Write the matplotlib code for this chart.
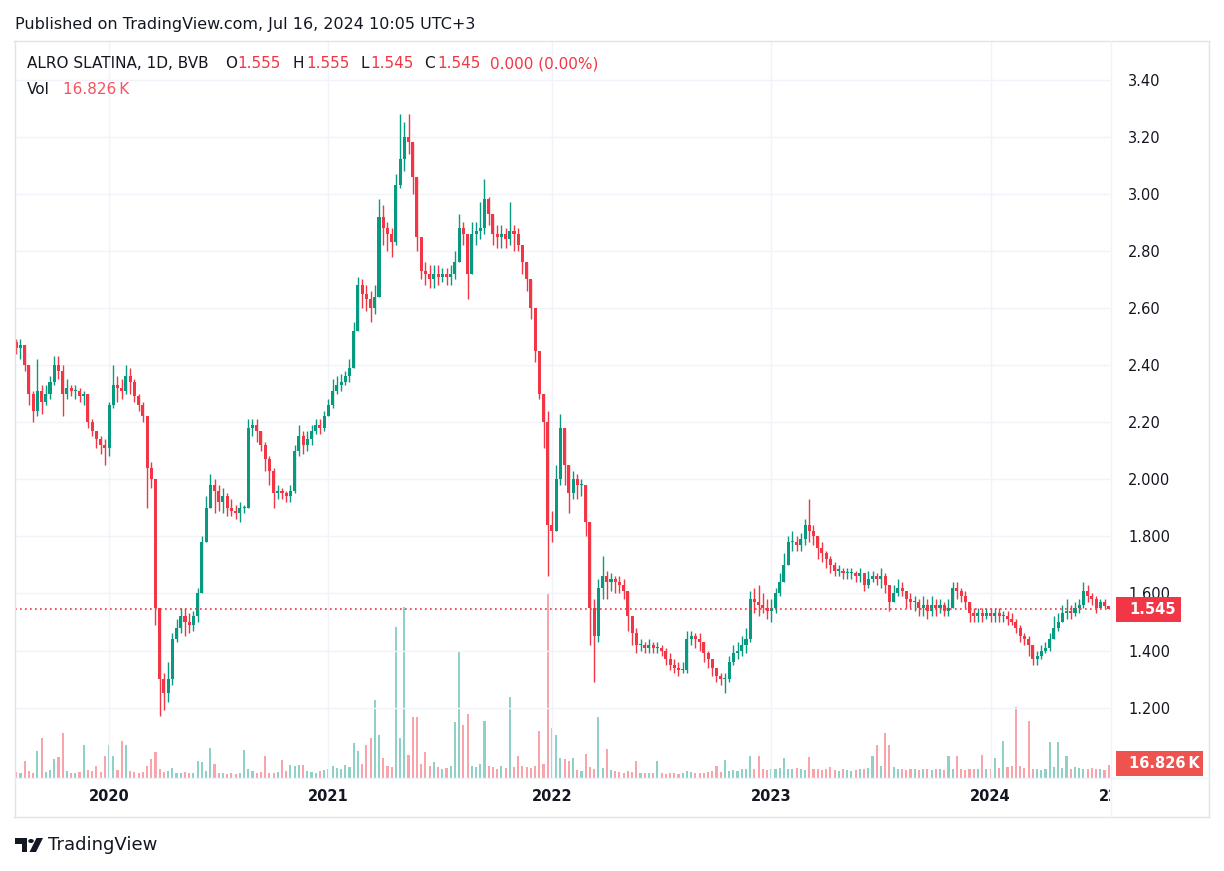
import matplotlib
matplotlib.use("Agg")
import matplotlib.pyplot as plt
import numpy as np
import pandas as pd
from matplotlib.patches import Rectangle, Polygon, Circle

# ---------------- data (weekly readings of ALRO, BVB) ----------------
dates = list(pd.date_range("2019-08-02", periods=259, freq="W-FRI")) + [pd.Timestamp("2024-07-16")]

first_open = 2.48

closes = [
    2.46, 2.47, 2.40, 2.30, 2.24, 2.31, 2.27, 2.30, 2.34, 2.40,
    2.38, 2.30, 2.32, 2.31, 2.31, 2.29, 2.30, 2.20, 2.17, 2.14,
    2.12, 2.11, 2.26, 2.33, 2.32, 2.31, 2.36, 2.34, 2.29, 2.26,
    2.22, 2.04, 2.00, 1.55, 1.30, 1.25, 1.30, 1.44, 1.48, 1.52,
    1.50, 1.49, 1.52, 1.60, 1.78, 1.90, 1.98, 1.96, 1.92, 1.94,
    1.90, 1.89, 1.88, 1.90, 1.90, 2.18, 2.19, 2.17, 2.12, 2.07,
    2.03, 1.95, 1.96, 1.95, 1.94, 1.96, 2.10, 2.15, 2.12, 2.14,
    2.17, 2.19, 2.18, 2.22, 2.26, 2.31, 2.33, 2.34, 2.36, 2.39,
    2.52, 2.68, 2.65, 2.63, 2.60, 2.64, 2.92, 2.88, 2.86, 2.83,
    3.03, 3.12, 3.20, 3.18, 3.06, 2.85, 2.73, 2.72, 2.70, 2.72,
    2.71, 2.72, 2.71, 2.72, 2.76, 2.88, 2.86, 2.72, 2.86, 2.87,
    2.88, 2.98, 2.93, 2.86, 2.85, 2.86, 2.84, 2.87, 2.86, 2.82,
    2.76, 2.70, 2.60, 2.45, 2.30, 2.20, 1.84, 1.82, 2.00, 2.18,
    2.05, 1.95, 2.00, 1.98, 1.98, 1.85, 1.55, 1.45, 1.62, 1.66,
    1.64, 1.65, 1.64, 1.63, 1.61, 1.52, 1.46, 1.42, 1.42, 1.41,
    1.42, 1.41, 1.41, 1.40, 1.37, 1.35, 1.34, 1.33, 1.33, 1.44,
    1.45, 1.44, 1.43, 1.39, 1.37, 1.34, 1.31, 1.30, 1.30, 1.36,
    1.39, 1.40, 1.42, 1.44, 1.58, 1.57, 1.56, 1.55, 1.54, 1.55,
    1.60, 1.64, 1.70, 1.78, 1.78, 1.77, 1.79, 1.84, 1.82, 1.80,
    1.76, 1.74, 1.72, 1.70, 1.68, 1.68, 1.67, 1.67, 1.67, 1.66,
    1.67, 1.63, 1.65, 1.66, 1.65, 1.66, 1.63, 1.57, 1.60, 1.62,
    1.61, 1.58, 1.57, 1.57, 1.55, 1.56, 1.54, 1.56, 1.55, 1.56,
    1.54, 1.55, 1.62, 1.61, 1.59, 1.57, 1.53, 1.52, 1.53, 1.52,
    1.53, 1.52, 1.53, 1.52, 1.52, 1.51, 1.50, 1.48, 1.45, 1.44,
    1.42, 1.37, 1.38, 1.40, 1.41, 1.44, 1.48, 1.50, 1.53, 1.54,
    1.53, 1.55, 1.56, 1.61, 1.59, 1.58, 1.55, 1.57, 1.555, 1.545,
]

highs = [
    2.49, 2.49, 2.46, 2.40, 2.31, 2.42, 2.33, 2.33, 2.36, 2.43,
    2.43, 2.40, 2.35, 2.33, 2.33, 2.32, 2.31, 2.24, 2.21, 2.17,
    2.15, 2.14, 2.27, 2.40, 2.36, 2.35, 2.40, 2.39, 2.35, 2.30,
    2.27, 2.18, 2.06, 1.98, 1.40, 1.32, 1.36, 1.46, 1.51, 1.55,
    1.55, 1.53, 1.54, 1.62, 1.80, 1.94, 2.02, 2.00, 1.98, 1.97,
    1.95, 1.93, 1.91, 1.92, 1.91, 2.21, 2.21, 2.21, 2.17, 2.13,
    2.08, 2.04, 1.98, 1.97, 1.96, 1.98, 2.12, 2.19, 2.17, 2.17,
    2.19, 2.21, 2.21, 2.24, 2.28, 2.35, 2.36, 2.37, 2.38, 2.42,
    2.55, 2.71, 2.70, 2.68, 2.66, 2.68, 2.98, 2.96, 2.90, 2.88,
    3.07, 3.28, 3.25, 3.28, 3.12, 2.98, 2.80, 2.76, 2.75, 2.75,
    2.75, 2.74, 2.74, 2.75, 2.80, 2.93, 2.90, 2.80, 2.90, 2.90,
    2.97, 3.05, 2.99, 2.92, 2.89, 2.89, 2.88, 2.97, 2.89, 2.88,
    2.81, 2.76, 2.68, 2.56, 2.42, 2.28, 2.24, 1.89, 2.05, 2.23,
    2.12, 2.05, 2.03, 2.02, 2.00, 1.97, 1.82, 1.58, 1.65, 1.73,
    1.68, 1.67, 1.66, 1.66, 1.65, 1.60, 1.50, 1.48, 1.44, 1.43,
    1.44, 1.43, 1.43, 1.42, 1.41, 1.39, 1.37, 1.36, 1.36, 1.47,
    1.47, 1.46, 1.46, 1.43, 1.40, 1.37, 1.34, 1.32, 1.32, 1.38,
    1.42, 1.43, 1.45, 1.48, 1.61, 1.62, 1.63, 1.60, 1.58, 1.58,
    1.62, 1.67, 1.74, 1.80, 1.82, 1.80, 1.81, 1.86, 1.93, 1.84,
    1.80, 1.78, 1.75, 1.73, 1.71, 1.70, 1.69, 1.69, 1.69, 1.68,
    1.69, 1.67, 1.68, 1.68, 1.67, 1.69, 1.67, 1.63, 1.63, 1.65,
    1.64, 1.61, 1.60, 1.59, 1.58, 1.59, 1.58, 1.59, 1.58, 1.58,
    1.57, 1.58, 1.64, 1.64, 1.62, 1.61, 1.57, 1.55, 1.55, 1.55,
    1.55, 1.55, 1.55, 1.55, 1.54, 1.54, 1.53, 1.51, 1.49, 1.46,
    1.45, 1.42, 1.40, 1.42, 1.43, 1.46, 1.52, 1.53, 1.56, 1.58,
    1.56, 1.57, 1.58, 1.64, 1.63, 1.60, 1.59, 1.58, 1.58, 1.555,
]

lows = [
    2.44, 2.42, 2.38, 2.26, 2.20, 2.22, 2.23, 2.26, 2.28, 2.33,
    2.35, 2.22, 2.28, 2.29, 2.28, 2.27, 2.26, 2.18, 2.15, 2.11,
    2.09, 2.05, 2.08, 2.25, 2.27, 2.28, 2.30, 2.30, 2.27, 2.24,
    2.20, 1.90, 1.97, 1.49, 1.17, 1.19, 1.22, 1.28, 1.43, 1.46,
    1.45, 1.46, 1.47, 1.50, 1.60, 1.82, 1.90, 1.88, 1.89, 1.88,
    1.87, 1.87, 1.86, 1.85, 1.88, 2.07, 2.15, 2.13, 2.10, 2.03,
    1.98, 1.90, 1.93, 1.93, 1.92, 1.92, 1.95, 2.08, 2.09, 2.10,
    2.12, 2.16, 2.16, 2.17, 2.22, 2.25, 2.30, 2.31, 2.33, 2.34,
    2.40, 2.54, 2.60, 2.59, 2.55, 2.58, 2.66, 2.82, 2.80, 2.78,
    2.82, 3.02, 3.08, 3.14, 3.00, 2.80, 2.70, 2.68, 2.67, 2.67,
    2.68, 2.69, 2.68, 2.68, 2.70, 2.80, 2.82, 2.63, 2.72, 2.82,
    2.84, 2.86, 2.89, 2.82, 2.81, 2.81, 2.81, 2.82, 2.80, 2.80,
    2.72, 2.66, 2.56, 2.41, 2.28, 2.11, 1.66, 1.78, 1.83, 1.98,
    1.98, 1.88, 1.93, 1.93, 1.94, 1.80, 1.42, 1.29, 1.43, 1.58,
    1.58, 1.61, 1.60, 1.60, 1.58, 1.47, 1.42, 1.39, 1.40, 1.39,
    1.39, 1.39, 1.39, 1.38, 1.35, 1.33, 1.32, 1.31, 1.32, 1.32,
    1.42, 1.41, 1.40, 1.36, 1.34, 1.31, 1.29, 1.28, 1.25, 1.29,
    1.35, 1.37, 1.38, 1.39, 1.43, 1.53, 1.52, 1.53, 1.51, 1.50,
    1.53, 1.59, 1.64, 1.70, 1.75, 1.75, 1.75, 1.77, 1.78, 1.77,
    1.72, 1.71, 1.69, 1.67, 1.66, 1.66, 1.65, 1.65, 1.65, 1.64,
    1.64, 1.61, 1.62, 1.64, 1.63, 1.62, 1.60, 1.54, 1.57, 1.59,
    1.59, 1.55, 1.55, 1.54, 1.52, 1.52, 1.51, 1.52, 1.52, 1.53,
    1.52, 1.52, 1.55, 1.58, 1.57, 1.55, 1.50, 1.50, 1.50, 1.50,
    1.51, 1.50, 1.50, 1.50, 1.50, 1.49, 1.49, 1.46, 1.43, 1.42,
    1.38, 1.35, 1.35, 1.37, 1.39, 1.40, 1.44, 1.47, 1.50, 1.51,
    1.51, 1.52, 1.53, 1.55, 1.57, 1.56, 1.53, 1.55, 1.55, 1.545,
]

# volume in thousands (K)
volumes = [
    8, 6, 22, 9, 7, 35, 52, 8, 10, 25,
    27, 58, 9, 7, 6, 8, 42, 10, 9, 16,
    8, 29, 42, 29, 10, 48, 42, 9, 8, 7,
    8, 16, 25, 34, 12, 8, 9, 13, 7, 6,
    8, 6, 7, 22, 21, 9, 39, 18, 7, 6,
    5, 6, 5, 7, 36, 12, 9, 7, 8, 29,
    7, 6, 8, 23, 9, 17, 16, 17, 17, 9,
    8, 7, 9, 10, 11, 16, 13, 12, 17, 14,
    45, 35, 18, 42, 52, 100, 55, 26, 16, 14,
    195, 52, 220, 30, 79, 78, 18, 34, 16, 21,
    14, 12, 13, 15, 72, 162, 68, 83, 16, 14,
    18, 74, 16, 14, 12, 15, 13, 104, 14, 29,
    15, 14, 13, 16, 60, 18, 238, 65, 56, 26,
    24, 22, 26, 10, 9, 31, 14, 12, 79, 13,
    38, 10, 9, 8, 7, 9, 8, 22, 7, 6,
    6, 7, 22, 6, 5, 6, 7, 5, 6, 9,
    8, 7, 6, 7, 8, 9, 16, 8, 23, 9,
    10, 9, 11, 12, 29, 12, 29, 11, 10, 12,
    11, 13, 26, 12, 11, 13, 12, 10, 27, 12,
    11, 10, 12, 14, 10, 9, 11, 10, 9, 10,
    12, 11, 13, 29, 43, 15, 58, 42, 14, 12,
    11, 10, 12, 11, 10, 12, 11, 10, 12, 11,
    10, 29, 12, 29, 11, 10, 12, 11, 12, 30,
    11, 12, 26, 13, 48, 14, 15, 91, 16, 13,
    74, 12, 11, 10, 12, 46, 14, 46, 13, 29,
    12, 14, 13, 12, 11, 13, 12, 11, 10, 16.826,
]

ytick_values = [1.2, 1.4, 1.6, 1.8, 2.0, 2.2, 2.4, 2.6, 2.8, 3.0, 3.2, 3.4]
ytick_labels = ["1.200", "1.400", "1.600", "1.800", "2.000", "2.20", "2.40",
                "2.60", "2.80", "3.00", "3.20", "3.40"]
year_labels = ["2020", "2021", "2022", "2023", "2024"]

last_price = 1.545
last_vol_label = "16.826\u2009K"

# ---------------- styling ----------------
UP = "#089981"
DOWN = "#f23645"
TXT = "#131722"
GRID = "#f0f3fa"
BORDER = "#e0e3eb"

W, H = 1224, 871
fig = plt.figure(figsize=(W / 100, H / 100), dpi=100)
fig.patch.set_facecolor("white")
plt.rcParams['font.family'] = ['DejaVu Sans']


def fx(px):
    return px / W


def fy(py):
    return 1 - py / H


L_PX, R_PX, T_PX, B_PX = 15, 1110, 41, 778
rect = [fx(L_PX), fy(B_PX), fx(R_PX) - fx(L_PX), fy(T_PX) - fy(B_PX)]

n = len(closes)
idx = np.arange(n)
opens = np.array([first_open] + closes[:-1], dtype=float)
c = np.array(closes, dtype=float)
h = np.maximum.reduce([np.array(highs, float), opens, c])
l = np.minimum.reduce([np.array(lows, float), opens, c])
up = c >= opens
cols = np.where(up, UP, DOWN)

XL = (-0.3, n - 0.7)
YL = (0.9534, 3.535)

# volume axes (behind)
axv = fig.add_axes(rect)
axv.set_xlim(*XL)
axv.set_ylim(0, 950)
axv.axis("off")
vcols = [(8/255, 153/255, 129/255, 0.45) if u else (242/255, 54/255, 69/255, 0.45) for u in up]
axv.bar(idx, volumes, width=0.5, color=vcols, linewidth=0)

# price axes (front)
ax = fig.add_axes(rect)
ax.patch.set_visible(False)
ax.set_xlim(*XL)
ax.set_ylim(*YL)
for s in ax.spines.values():
    s.set_visible(False)

# grid
for v in ytick_values:
    ax.axhline(v, color=GRID, lw=1, zorder=0)
year_pos = []
for yr in [2020, 2021, 2022, 2023, 2024]:
    k = next(i for i, d in enumerate(dates) if d.year == yr)
    year_pos.append(k)
    ax.axvline(k, color=GRID, lw=1, zorder=0)

# candles
ax.vlines(idx, l, h, colors=cols, lw=1.0, zorder=2)
body_b = np.minimum(opens, c)
body_h = np.maximum(np.abs(c - opens), 0.004)
ax.bar(idx, body_h, bottom=body_b, width=0.72, color=cols, linewidth=0, zorder=3)

# last price dotted line
ax.axhline(last_price, color=DOWN, lw=1.2, ls=(0, (1, 2)), zorder=4)

ax.set_yticks(ytick_values)
ax.set_yticklabels(ytick_labels)
ax.yaxis.tick_right()
ax.tick_params(axis="y", length=0, pad=13, labelsize=10.5, labelcolor=TXT)
ax.set_xticks([])

# time axis strip
axt = fig.add_axes([fx(L_PX), fy(816), fx(R_PX) - fx(L_PX), fy(B_PX) - fy(816)])
axt.set_xlim(*XL)
axt.set_ylim(0, 1)
axt.axis("off")
for k, lab in zip(year_pos, year_labels):
    axt.text(k, 0.52, lab, ha="center", va="center", fontsize=10.5,
             fontweight="bold", color=TXT, clip_on=True)
axt.text(n - 1, 0.52, "22", ha="center", va="center", fontsize=10.5,
         fontweight="bold", color=TXT, clip_on=True)

# frame lines
def hline(y, x0, x1, color=BORDER, lw=1):
    fig.add_artist(plt.Line2D([fx(x0), fx(x1)], [fy(y), fy(y)], color=color, lw=lw))


def vline(x, y0, y1, color=BORDER, lw=1):
    fig.add_artist(plt.Line2D([fx(x), fx(x)], [fy(y0), fy(y1)], color=color, lw=lw))

hline(41, 14, 1209)
hline(817, 14, 1209)
vline(14.5, 41, 817)
vline(1208.5, 41, 817)
vline(1111, 41, 817, color=GRID)
hline(778, 14, 1209, color=GRID)

# price label boxes
def label_box(y_center, x0, x1, hgt, color, text):
    fig.patches.append(Rectangle((fx(x0), fy(y_center + hgt / 2)), fx(x1) - fx(x0), hgt / H,
                                 transform=fig.transFigure, facecolor=color,
                                 edgecolor="none", zorder=5))
    fig.text(fx(1129), fy(y_center), text, ha="left", va="center", fontsize=10.5,
             fontweight="bold", color="white", zorder=6)

label_box(609.5, 1116, 1181, 25, DOWN, "1.545")
label_box(763.5, 1116, 1203, 25, "#ef5350", last_vol_label)

# header texts
fig.text(fx(15), fy(24), "Published on TradingView.com, Jul 16, 2024 10:05 UTC+3",
         ha="left", va="center", fontsize=11.5, color=TXT)
row_y = fy(64)
fig.text(fx(27), row_y, "ALRO SLATINA, 1D, BVB", ha="left", va="center", fontsize=11, color=TXT)
pieces = [(225, "O", TXT), (237, "1.555", DOWN), (293, "H", TXT), (306, "1.555", DOWN),
          (360, "L", TXT), (370, "1.545", DOWN), (424, "C", TXT), (437, "1.545", DOWN),
          (490, "0.000 (0.00%)", DOWN)]
for xp, s, col in pieces:
    fig.text(fx(xp), row_y, s, ha="left", va="center", fontsize=11, color=col)
fig.text(fx(27), fy(90), "Vol", ha="left", va="center", fontsize=11, color=TXT)
fig.text(fx(63), fy(90), last_vol_label, ha="left", va="center", fontsize=11, color="#f7525f")

# TradingView logo
logo = TXT
fig.patches.append(Polygon([(fx(15), fy(838)), (fx(27), fy(838)), (fx(27), fy(852)),
                            (fx(21.5), fy(852)), (fx(21.5), fy(843.5)), (fx(15), fy(843.5))],
                           closed=True, transform=fig.transFigure, facecolor=logo, edgecolor="none"))
fig.patches.append(Circle((fx(31), fy(841)), 2.8 / W, transform=fig.transFigure,
                          facecolor=logo, edgecolor="none"))
fig.patches.append(Polygon([(fx(36.5), fy(838)), (fx(43), fy(838)), (fx(36), fy(852)),
                            (fx(29.5), fy(852))],
                           closed=True, transform=fig.transFigure, facecolor=logo, edgecolor="none"))
fig.text(fx(48), fy(845), "TradingView", ha="left", va="center", fontsize=13, color=TXT)

fig.savefig("out.png", dpi=100, facecolor="white")
